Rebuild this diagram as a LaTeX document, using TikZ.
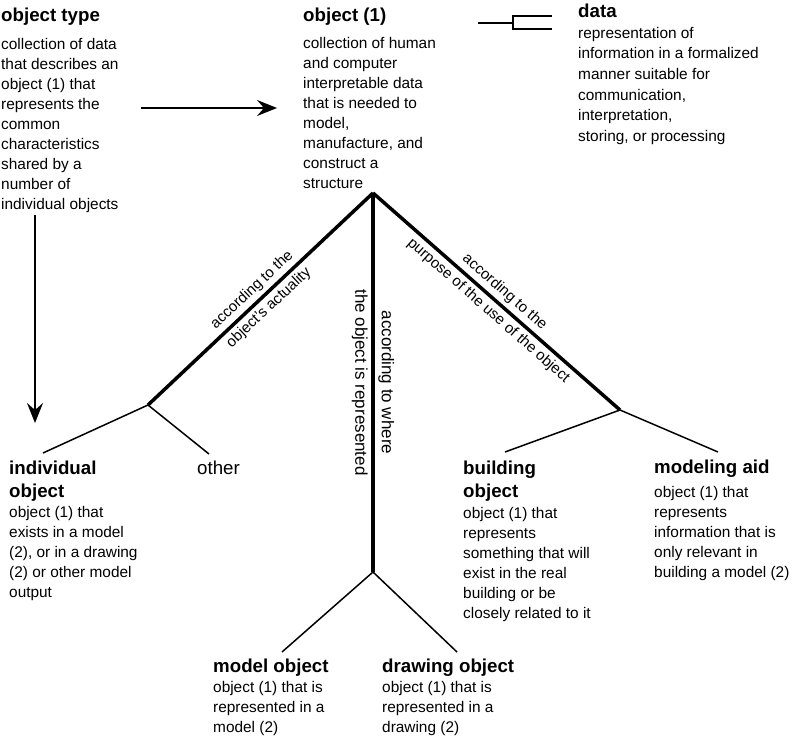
\documentclass[tikz,border=0pt]{standalone}
\usepackage{fontspec}
\setmainfont{Liberation Sans}
\usetikzlibrary{arrows.meta}

\begin{document}
\begin{tikzpicture}[x=1pt, y=-1pt,
    ttl/.style={anchor=north west, inner sep=0pt, align=left, font=\fontsize{18.7}{23}\selectfont\bfseries},
    desc/.style={anchor=north west, inner sep=0pt, align=left, font=\fontsize{15.4}{20}\selectfont},
    branch/.style={line width=3.5pt},
    twig/.style={line width=1.5pt},
    lbl/.style={sloped, midway, inner sep=3.5pt, font=\fontsize{15}{18}\selectfont},
    arr/.style={line width=2pt, -{Stealth[length=20pt, width=16pt, inset=7pt]}}]
  \useasboundingbox (0,0) rectangle (794,738);

  \node[ttl] (objtype) at (1,7.6) {object type};
  \node[desc] (objtypetxt) at (1,37.8) {collection of data\\that describes an\\object (1) that\\represents the\\common\\characteristics\\shared by a\\number of\\individual objects};

  \node[ttl] (object) at (303,7.6) {object (1)};
  \node[desc] (objecttxt) at (303,36.8) {collection of human\\and computer\\interpretable data\\that is needed to\\model,\\manufacture, and\\construct a\\structure};

  \node[ttl] (data) at (578,3.6) {data};
  \node[desc, font=\fontsize{15.4}{20.7}\selectfont] (datatxt) at (578,26.8) {representation of\\information in a formalized\\manner suitable for\\communication,\\interpretation,\\storing, or processing};

  \node[ttl] (indiv) at (9,460.4) {individual\\object};
  \node[desc] (indivtxt) at (9,505.8) {object (1) that\\exists in a model\\(2), or in a drawing\\(2) or other model\\output};

  \node[ttl, font=\fontsize{18.7}{23}\selectfont] (other) at (197,460.4) {other};

  \node[ttl] (build) at (463,460.4) {building\\object};
  \node[desc] (buildtxt) at (463,506.8) {object (1) that\\represents\\something that will\\exist in the real\\building or be\\closely related to it};

  \node[ttl] (aid) at (654,459.4) {modeling aid};
  \node[desc] (aidtxt) at (654,485.8) {object (1) that\\represents\\information that is\\only relevant in\\building a model (2)};

  \node[ttl] (model) at (213,658.4) {model object};
  \node[desc] (modeltxt) at (213,680.8) {object (1) that is\\represented in a\\model (2)};

  \node[ttl] (drawing) at (382,658.4) {drawing object};
  \node[desc] (drawingtxt) at (382,680.8) {object (1) that is\\represented in a\\drawing (2)};

  \coordinate (root) at (373,193);
  \coordinate (actual) at (148,405);
  \coordinate (purpose) at (620,410);
  \coordinate (where) at (373,572);
  \coordinate (indivend) at (43,453);
  \coordinate (otherend) at (209,454);
  \coordinate (buildend) at (505,452);
  \coordinate (aidend) at (718,452);
  \coordinate (modelend) at (282,652);
  \coordinate (drawingend) at (457,652);

  \draw[branch] (actual) -- node[lbl, above] {according to the} node[lbl, below] {object's actuality} (root);
  \draw[branch] (root) -- node[lbl, above, font=\fontsize{17}{20}\selectfont] {according to where} node[lbl, below, font=\fontsize{17}{20}\selectfont] {the object is represented} (where);
  \draw[branch] (root) -- node[lbl, above] {according to the} node[lbl, below] {purpose of the use of the object} (purpose);

  \draw[twig] (indivend) -- (actual) -- (otherend);
  \draw[twig] (buildend) -- (purpose) -- (aidend);
  \draw[twig] (modelend) -- (where) -- (drawingend);

  \coordinate (typeout) at (141,108);
  \coordinate (objectin) at (277,108);
  \coordinate (typedown) at (35,215);
  \coordinate (indivin) at (35,423);
  \draw[arr] (typeout) -- (objectin);
  \draw[arr] (typedown) -- (indivin);

  \coordinate (datain) at (478,23);
  \coordinate (databar) at (513,23);
  \draw[twig] (datain) -- (databar);
  \draw[twig] (552,16) -- (513,16) -- (513,29) -- (552,29);
\end{tikzpicture}
\end{document}
